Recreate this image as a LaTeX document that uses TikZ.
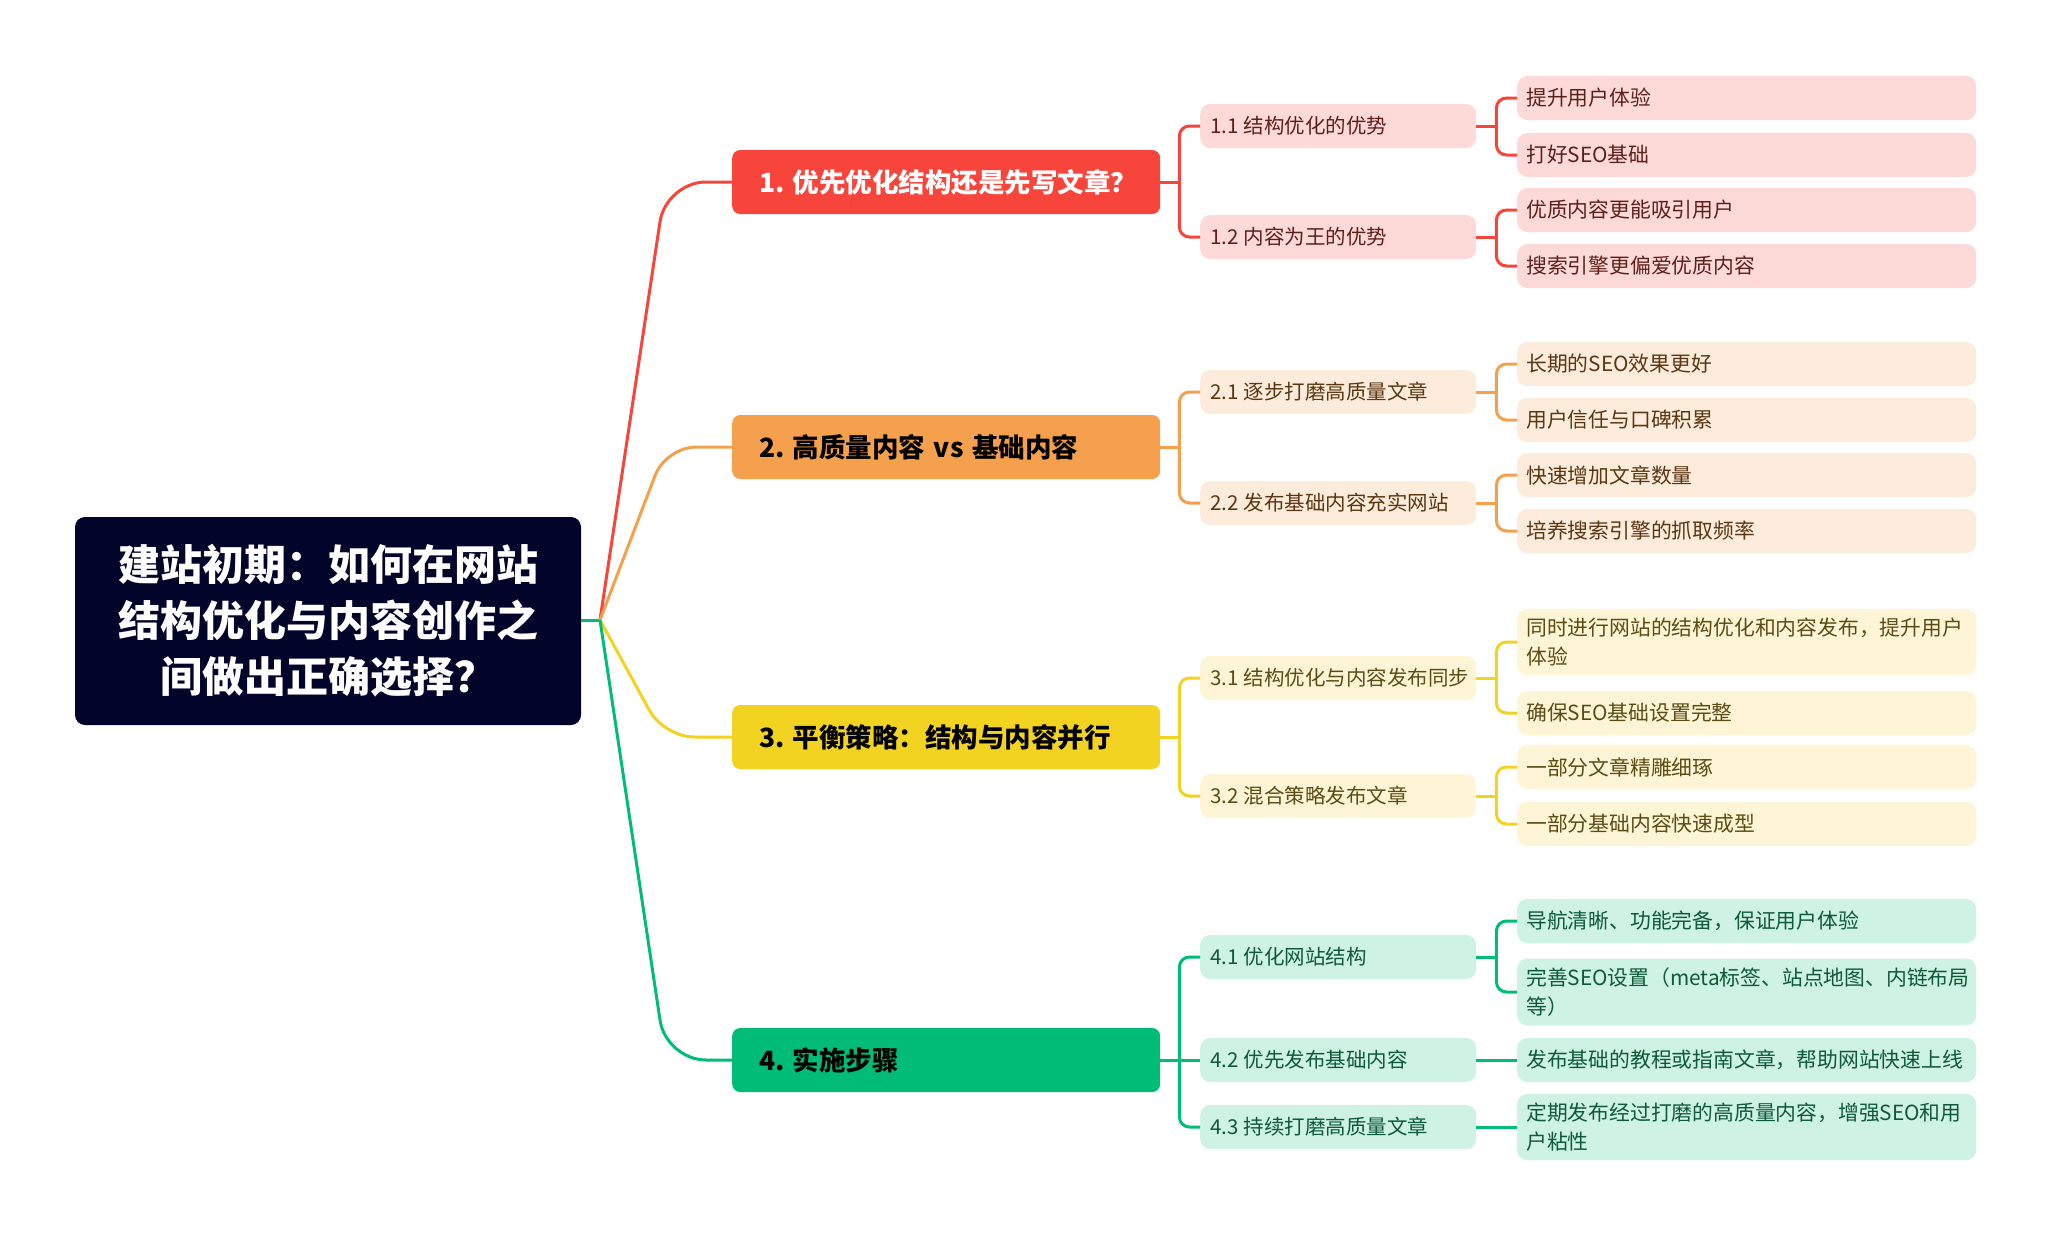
\documentclass[tikz,border=0pt]{standalone}
\usepackage{fontspec}
\setmainfont{Noto Sans CJK SC}

\definecolor{rootbg}{HTML}{03042A}
\definecolor{redmain}{HTML}{F7453C}
\definecolor{redlight}{HTML}{FDD9D8}
\definecolor{redtext}{HTML}{5E1F1B}
\definecolor{orgmain}{HTML}{F5A04C}
\definecolor{orglight}{HTML}{FDEBDC}
\definecolor{orgtext}{HTML}{5A3710}
\definecolor{ylwmain}{HTML}{F2D321}
\definecolor{ylwlight}{HTML}{FDF5D5}
\definecolor{ylwtext}{HTML}{5C4C14}
\definecolor{grnmain}{HTML}{01BC77}
\definecolor{grnlight}{HTML}{CEF2E3}
\definecolor{grntext}{HTML}{0C5A3A}

\begin{document}
\begin{tikzpicture}[x=1pt, y=-1pt,
      root/.style={fill=rootbg, text=white, rounded corners=10pt, minimum width=506pt, minimum height=208pt, align=center, font=\fontsize{42}{56}\selectfont\bfseries},
      topic/.style={anchor=west, rounded corners=8pt, text width=374pt, inner xsep=27pt, minimum height=64pt, align=left, font=\fontsize{26.5}{32}\selectfont\bfseries},
      sub/.style={anchor=west, rounded corners=10pt, text width=256pt, inner xsep=10pt, minimum height=44pt, align=left, font=\fontsize{20.5}{29}\selectfont},
      leaf/.style={anchor=west, rounded corners=10pt, text width=441pt, inner xsep=9pt, inner ysep=9pt, minimum height=44pt, align=left, font=\fontsize{20.8}{29}\selectfont},
      lred/.style={fill=redlight, text=redtext},
      lorg/.style={fill=orglight, text=orgtext},
      lylw/.style={fill=ylwlight, text=ylwtext},
      lgrn/.style={fill=grnlight, text=grntext},
      trunk/.style={line width=3pt, rounded corners=40pt},
      twig/.style={line width=3pt, rounded corners=10pt},
    ]
    \useasboundingbox (0,0) rectangle (2053,1239);

    \node[root] (title) at (328,621) {建站初期：如何在网站\\结构优化与内容创作之\\间做出正确选择？};
    \coordinate (hub) at (600,620);

    \node[topic, fill=redmain, text=white] (m1) at (732,182) {1.\kern8pt 优先优化结构还是先写文章？};
    \node[topic, fill=orgmain, text=black] (m2) at (732,447) {2.\kern8pt 高质量内容 vs 基础内容};
    \node[topic, fill=ylwmain, text=black] (m3) at (732,737) {3.\kern8pt 平衡策略：结构与内容并行};
    \node[topic, fill=grnmain, text=black] (m4) at (732,1060) {4.\kern8pt 实施步骤};

    \node[sub, lred] (n11) at (1200,126) {1.1\kern5pt 结构优化的优势};
    \node[sub, lred] (n12) at (1200,237) {1.2\kern5pt 内容为王的优势};
    \node[sub, lorg] (n21) at (1200,392) {2.1\kern5pt 逐步打磨高质量文章};
    \node[sub, lorg] (n22) at (1200,503) {2.2\kern5pt 发布基础内容充实网站};
    \node[sub, lylw] (n31) at (1200,678) {3.1\kern5pt 结构优化与内容发布同步};
    \node[sub, lylw] (n32) at (1200,796) {3.2\kern5pt 混合策略发布文章};
    \node[sub, lgrn] (n41) at (1200,957) {4.1\kern5pt 优化网站结构};
    \node[sub, lgrn] (n42) at (1200,1060) {4.2\kern5pt 优先发布基础内容};
    \node[sub, lgrn] (n43) at (1200,1127) {4.3\kern5pt 持续打磨高质量文章};

    \node[leaf, lred] (l111) at (1517,98) {提升用户体验};
    \node[leaf, lred] (l112) at (1517,155) {打好SEO基础};
    \node[leaf, lred] (l121) at (1517,210) {优质内容更能吸引用户};
    \node[leaf, lred] (l122) at (1517,266) {搜索引擎更偏爱优质内容};
    \node[leaf, lorg] (l211) at (1517,364) {长期的SEO效果更好};
    \node[leaf, lorg] (l212) at (1517,420) {用户信任与口碑积累};
    \node[leaf, lorg] (l221) at (1517,475) {快速增加文章数量};
    \node[leaf, lorg] (l222) at (1517,531) {培养搜索引擎的抓取频率};
    \node[leaf, lylw] (l311) at (1517,642) {同时进行网站的结构优化和内容发布，提升用户\\体验};
    \node[leaf, lylw] (l312) at (1517,713) {确保SEO基础设置完整};
    \node[leaf, lylw] (l321) at (1517,767) {一部分文章精雕细琢};
    \node[leaf, lylw] (l322) at (1517,824) {一部分基础内容快速成型};
    \node[leaf, lgrn] (l411) at (1517,921) {导航清晰、功能完备，保证用户体验};
    \node[leaf, lgrn] (l412) at (1517,992) {完善SEO设置（meta标签、站点地图、内链布局\\等）};
    \node[leaf, lgrn] (l421) at (1517,1060) {发布基础的教程或指南文章，帮助网站快速上线};
    \node[leaf, lgrn] (l431) at (1517,1127) {定期发布经过打磨的高质量内容，增强SEO和用\\户粘性};

    \draw[line width=3pt, grnmain] (title.east |- hub) -- (hub);
    \draw[trunk, redmain] (hub) -- ([xshift=-66pt]m1.west) -- (m1.west);
    \draw[trunk, orgmain, rounded corners=30pt] (hub) -- ([xshift=-66pt]m2.west) -- (m2.west);
    \draw[trunk, ylwmain, rounded corners=30pt] (hub) -- ([xshift=-68pt]m3.west) -- (m3.west);
    \draw[trunk, grnmain] (hub) -- ([xshift=-66pt]m4.west) -- (m4.west);

    \draw[twig, redmain] (m1.east) -- ++(19,0) coordinate (j1);
    \draw[twig, redmain] (j1) |- (n11.west);
    \draw[twig, redmain] (j1) |- (n12.west);
    \draw[twig, orgmain] (m2.east) -- ++(19,0) coordinate (j2);
    \draw[twig, orgmain] (j2) |- (n21.west);
    \draw[twig, orgmain] (j2) |- (n22.west);
    \draw[twig, ylwmain] (m3.east) -- ++(19,0) coordinate (j3);
    \draw[twig, ylwmain] (j3) |- (n31.west);
    \draw[twig, ylwmain] (j3) |- (n32.west);
    \draw[twig, grnmain] (m4.east) -- ++(19,0) coordinate (j4);
    \draw[twig, grnmain] (j4) |- (n41.west);
    \draw[twig, grnmain] (j4) -- (n42.west);
    \draw[twig, grnmain] (j4) |- (n43.west);

    \draw[twig, redmain] (n11.east) -- ++(20,0) coordinate (k11);
    \draw[twig, redmain] (k11) |- (l111.west);
    \draw[twig, redmain] (k11) |- (l112.west);
    \draw[twig, redmain] (n12.east) -- ++(20,0) coordinate (k12);
    \draw[twig, redmain] (k12) |- (l121.west);
    \draw[twig, redmain] (k12) |- (l122.west);
    \draw[twig, orgmain] (n21.east) -- ++(20,0) coordinate (k21);
    \draw[twig, orgmain] (k21) |- (l211.west);
    \draw[twig, orgmain] (k21) |- (l212.west);
    \draw[twig, orgmain] (n22.east) -- ++(20,0) coordinate (k22);
    \draw[twig, orgmain] (k22) |- (l221.west);
    \draw[twig, orgmain] (k22) |- (l222.west);
    \draw[twig, ylwmain] (n31.east) -- ++(20,0) coordinate (k31);
    \draw[twig, ylwmain] (k31) |- (l311.west);
    \draw[twig, ylwmain] (k31) |- (l312.west);
    \draw[twig, ylwmain] (n32.east) -- ++(20,0) coordinate (k32);
    \draw[twig, ylwmain] (k32) |- (l321.west);
    \draw[twig, ylwmain] (k32) |- (l322.west);
    \draw[twig, grnmain] (n41.east) -- ++(20,0) coordinate (k41);
    \draw[twig, grnmain] (k41) |- (l411.west);
    \draw[twig, grnmain] (k41) |- (l412.west);
    \draw[twig, grnmain] (n42.east) -- (l421.west);
    \draw[twig, grnmain] (n43.east) -- (l431.west);
  \end{tikzpicture}
\end{document}
